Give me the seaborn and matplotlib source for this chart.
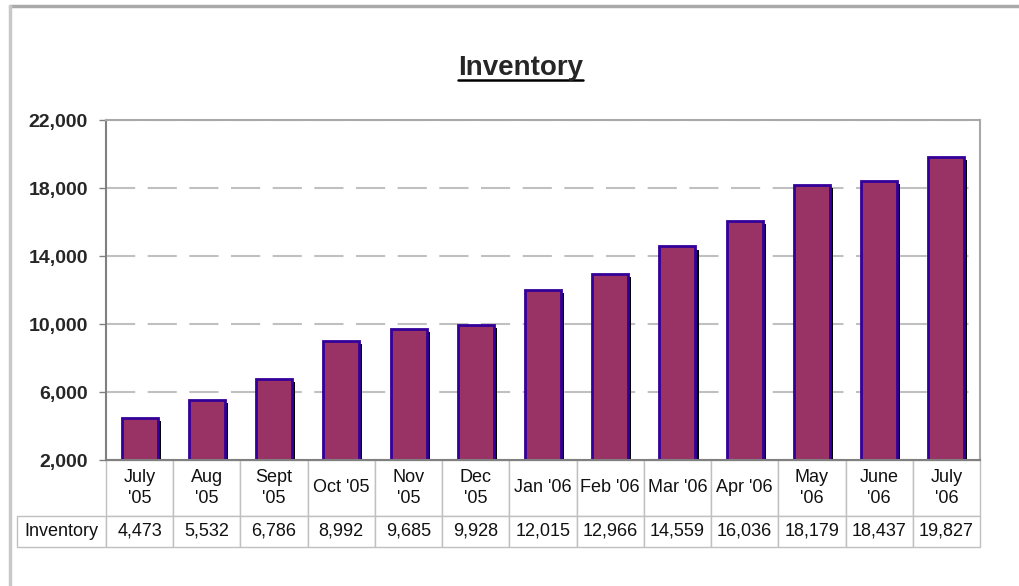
import matplotlib
matplotlib.use('Agg')
import matplotlib.pyplot as plt
import matplotlib.patheffects as pe
from matplotlib.lines import Line2D
from matplotlib.ticker import FuncFormatter
import seaborn as sns

# --- Data ---
months = ["July\n'05", "Aug\n'05", "Sept\n'05", "Oct '05", "Nov\n'05", "Dec\n'05",
          "Jan '06", "Feb '06", "Mar '06", "Apr '06", "May\n'06", "June\n'06", "July\n'06"]
inventory = [4473, 5532, 6786, 8992, 9685, 9928, 12015, 12966, 14559, 16036, 18179, 18437, 19827]
y_ticks = [2000, 6000, 10000, 14000, 18000, 22000]
row_label = 'Inventory'

BAR_COLOR = '#993366'
EDGE_COLOR = '#330099'
GRID_COLOR = '#c0c0c0'

sns.set_style('white')
plt.rcParams['font.family'] = ['Liberation Sans', 'DejaVu Sans']

fig = plt.figure(figsize=(10.2, 5.86), dpi=100)
ax = fig.add_axes([106 / 1020, 1 - 460 / 586, 874 / 1020, 340 / 586])

sns.barplot(x=list(range(len(months))), y=inventory, color=BAR_COLOR,
            edgecolor=EDGE_COLOR, linewidth=2, width=0.535, saturation=1, ax=ax)

# drop shadow on the bars, like the old Excel chart
for bar in ax.patches:
    bar.set_path_effects([pe.SimplePatchShadow(offset=(2.2, -2.2), shadow_rgbFace='black', alpha=1.0),
                          pe.Normal()])

ax.set_ylim(2000, 22000)
ax.set_xlim(-0.5, len(months) - 0.5)
ax.set_yticks(y_ticks)
ax.yaxis.set_major_formatter(FuncFormatter(lambda v, p: f'{int(v):,}'))
ax.tick_params(axis='y', labelsize=14, length=5, width=1, color='#808080', left=True, pad=8)
for lbl in ax.get_yticklabels():
    lbl.set_fontweight('bold')
ax.set_xticks([])
ax.set_xlabel('')
ax.set_ylabel('')

ax.set_axisbelow(True)
ax.yaxis.grid(True, color=GRID_COLOR, linewidth=1.5, linestyle=(0, (14, 6)))

for side in ['top', 'right']:
    ax.spines[side].set_color('#a8a8a8')
    ax.spines[side].set_linewidth(1.5)
for side in ['left', 'bottom']:
    ax.spines[side].set_color('#808080')
    ax.spines[side].set_linewidth(1.5)

# data table under the plot (bbox covers the month columns, row label sits to the left)
tbl = ax.table(cellText=[[f'{v:,}' for v in inventory]],
               colLabels=months, rowLabels=[row_label],
               cellLoc='center', rowLoc='center',
               bbox=[0, -87 / 340, 1, 87 / 340])
tbl.auto_set_font_size(False)
tbl.set_fontsize(13)
for (r, c), cell in tbl.get_celld().items():
    cell.set_edgecolor(GRID_COLOR)
    cell.set_linewidth(1)
    cell.set_width(88 if c == -1 else 67.2)
    cell.set_height(56 if r == 0 else 31)
    cell.get_text().set_linespacing(1.3)
    cell.get_text().set_color('#111111')

# title, underlined
title = fig.text(0.51, 1 - 68 / 586, 'Inventory', ha='center', va='center',
                 fontsize=20, fontweight='bold')
fig.canvas.draw()
bb = title.get_window_extent().transformed(fig.transFigure.inverted())
fig.add_artist(Line2D([bb.x0, bb.x1], [bb.y0 + 0.002, bb.y0 + 0.002],
                      color='black', linewidth=1.8, transform=fig.transFigure))

# outer frame of the original screenshot
fig.add_artist(Line2D([10 / 1020, 1], [1 - 6 / 586, 1 - 6 / 586], color='#aaaaaa',
                      linewidth=2.5, transform=fig.transFigure))
fig.add_artist(Line2D([10 / 1020, 10 / 1020], [0, 1 - 6 / 586], color='#c8c8c8',
                      linewidth=2.5, transform=fig.transFigure))

fig.savefig('out.png', dpi=100)
